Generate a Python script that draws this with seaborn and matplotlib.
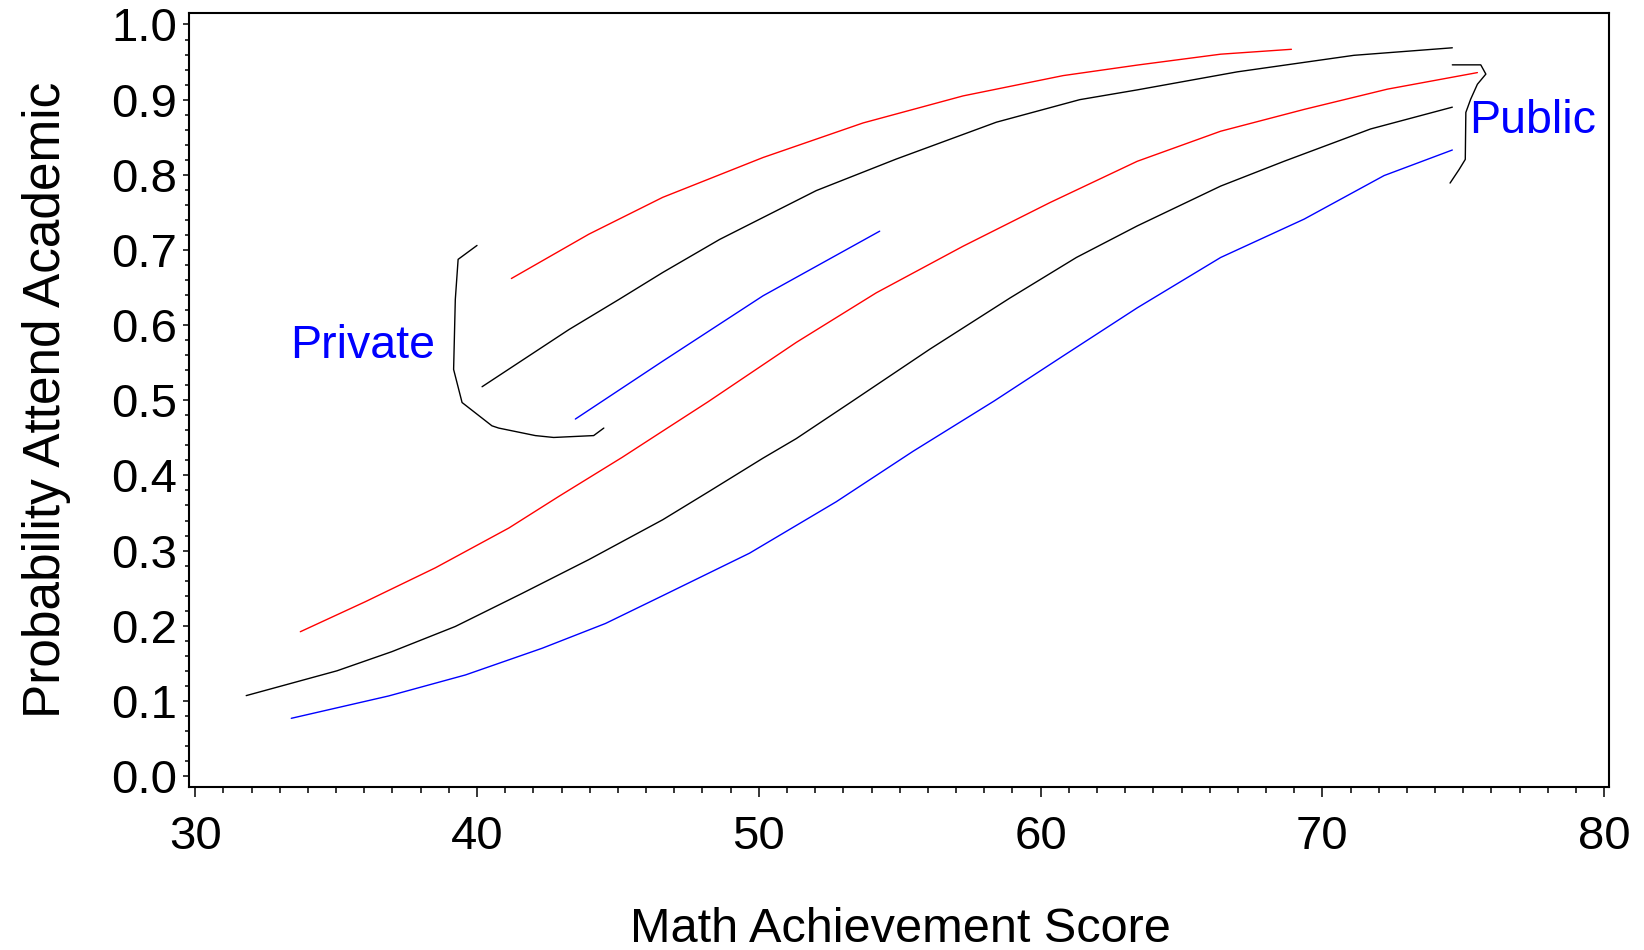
import matplotlib
matplotlib.use("Agg")
import matplotlib.pyplot as plt
import seaborn as sns
import pandas as pd
from matplotlib.ticker import MultipleLocator

# ---- data ----
pub_est_x = [31.81, 35.03, 36.98, 39.23, 41.60, 43.97, 46.59, 48.25, 50.15, 51.33, 53.25,
             56.07, 58.91, 61.27, 63.43, 66.39, 68.64, 71.71, 74.61]
pub_est_y = [0.107, 0.140, 0.1655, 0.199, 0.243, 0.288, 0.341, 0.379, 0.423, 0.449, 0.497,
             0.568, 0.636, 0.690, 0.732, 0.785, 0.818, 0.861, 0.890]

pub_up_x = [33.73, 36.04, 38.52, 41.13, 42.90, 45.15, 46.59, 48.20, 51.33, 54.17, 57.25,
            60.33, 63.43, 66.39, 69.35, 72.31, 75.50]
pub_up_y = [0.192, 0.232, 0.277, 0.330, 0.372, 0.424, 0.459, 0.498, 0.577, 0.643, 0.705,
            0.763, 0.818, 0.858, 0.887, 0.914, 0.936]

pub_lo_x = [33.41, 36.86, 39.59, 42.31, 44.56, 46.59, 49.67, 52.75, 55.47, 58.35, 60.80,
            63.43, 66.39, 69.35, 72.19, 74.61]
pub_lo_y = [0.0768, 0.1065, 0.1345, 0.170, 0.203, 0.240, 0.2965, 0.365, 0.432, 0.499, 0.559,
            0.623, 0.690, 0.741, 0.799, 0.833]

prv_est_x = [40.18, 43.26, 45.03, 46.59, 48.61, 52.04, 54.88, 58.43, 61.39, 63.43, 66.98, 71.12, 74.61]
prv_est_y = [0.518, 0.594, 0.634, 0.670, 0.714, 0.779, 0.821, 0.870, 0.900, 0.913, 0.937, 0.959, 0.969]

prv_up_x = [41.22, 43.97, 46.59, 50.15, 53.70, 57.25, 60.80, 63.43, 66.39, 68.90]
prv_up_y = [0.662, 0.721, 0.770, 0.823, 0.869, 0.905, 0.932, 0.946, 0.9605, 0.967]

prv_lo_x = [43.49, 46.59, 50.15, 54.29]
prv_lo_y = [0.475, 0.552, 0.639, 0.725]

prv_brk_x = [40.00, 39.33, 39.23, 39.17, 39.47, 40.53, 40.77, 42.07, 42.72, 44.14, 44.50]
prv_brk_y = [0.706, 0.6875, 0.634, 0.541, 0.497, 0.466, 0.463, 0.453, 0.4505, 0.453, 0.463]

pub_brk_x = [74.61, 75.62, 75.80, 75.50, 75.26, 75.09, 75.07, 74.85, 74.53]
pub_brk_y = [0.9463, 0.9463, 0.934, 0.9205, 0.9005, 0.883, 0.8205, 0.807, 0.789]

group_labels = ["Private", "Public"]
x_ticks = [30, 40, 50, 60, 70, 80]
y_ticks = [0.0, 0.1, 0.2, 0.3, 0.4, 0.5, 0.6, 0.7, 0.8, 0.9, 1.0]
x_title = "Math Achievement Score"
y_title = "Probability Attend Academic"

# ---- styling ----
sns.set_style("ticks")
plt.rcParams["font.family"] = ["Liberation Sans", "DejaVu Sans"]
plt.rcParams["text.color"] = "black"
plt.rcParams["axes.labelcolor"] = "black"
plt.rcParams["xtick.color"] = "black"
plt.rcParams["ytick.color"] = "black"

fig = plt.figure(figsize=(16.44, 9.5), dpi=100)
ax = fig.add_axes([189 / 1644, 1 - 787 / 950, 1420 / 1644, 774 / 950])

RED, BLK, BLU = "#FF0000", "#000000", "#0000FF"
LW = 1.0

curves = [
    (pub_up_x, pub_up_y, RED),
    (pub_est_x, pub_est_y, BLK),
    (pub_lo_x, pub_lo_y, BLU),
    (prv_up_x, prv_up_y, RED),
    (prv_est_x, prv_est_y, BLK),
    (prv_lo_x, prv_lo_y, BLU),
    (prv_brk_x, prv_brk_y, BLK),
    (pub_brk_x, pub_brk_y, BLK),
]
for xs, ys, c in curves:
    df = pd.DataFrame({"x": xs, "y": ys})
    sns.lineplot(data=df, x="x", y="y", ax=ax, color=c, linewidth=LW,
                 sort=False, estimator=None)

ax.text(33.37, 0.5566, group_labels[0], color=BLU, fontsize=33.5, ha="left", va="baseline")
ax.text(75.21, 0.855, group_labels[1], color=BLU, fontsize=33.5, ha="left", va="baseline")

ax.set_xlim(29.78, 80.17)
ax.set_ylim(-0.0146, 1.0153)
ax.set_xticks(x_ticks)
ax.set_yticks(y_ticks)
ax.set_xticklabels([str(v) for v in x_ticks])
ax.set_yticklabels([f"{v:.1f}" for v in y_ticks])
ax.xaxis.set_minor_locator(MultipleLocator(1))
ax.yaxis.set_minor_locator(MultipleLocator(0.02))

for side in ["left", "right", "top", "bottom"]:
    ax.spines[side].set_visible(True)
    ax.spines[side].set_linewidth(1.5)
    ax.spines[side].set_color("black")

ax.tick_params(axis="x", which="major", direction="out", length=7.5, width=1.1,
               labelsize=34, pad=13, colors="black", labelcolor="black")
ax.tick_params(axis="x", which="minor", direction="out", length=4.5, width=1.1, colors="black")
ax.tick_params(axis="y", which="major", direction="out", length=4.5, width=1.1,
               labelsize=34, pad=4, colors="black", labelcolor="black")
ax.tick_params(axis="y", which="minor", direction="out", length=3, width=1.1, colors="black")
ax.tick_params(top=False, right=False, which="both")

ax.set_xlabel(x_title, fontsize=35, color="black")
ax.set_ylabel(y_title, fontsize=37, color="black")
ax.xaxis.label.set_va("baseline")
ax.xaxis.set_label_coords(0.5007, -0.200)
ax.yaxis.label.set_va("baseline")
ax.yaxis.set_label_coords(-0.0908, 0.5006)

fig.savefig("out.png", dpi=100, facecolor="white")
